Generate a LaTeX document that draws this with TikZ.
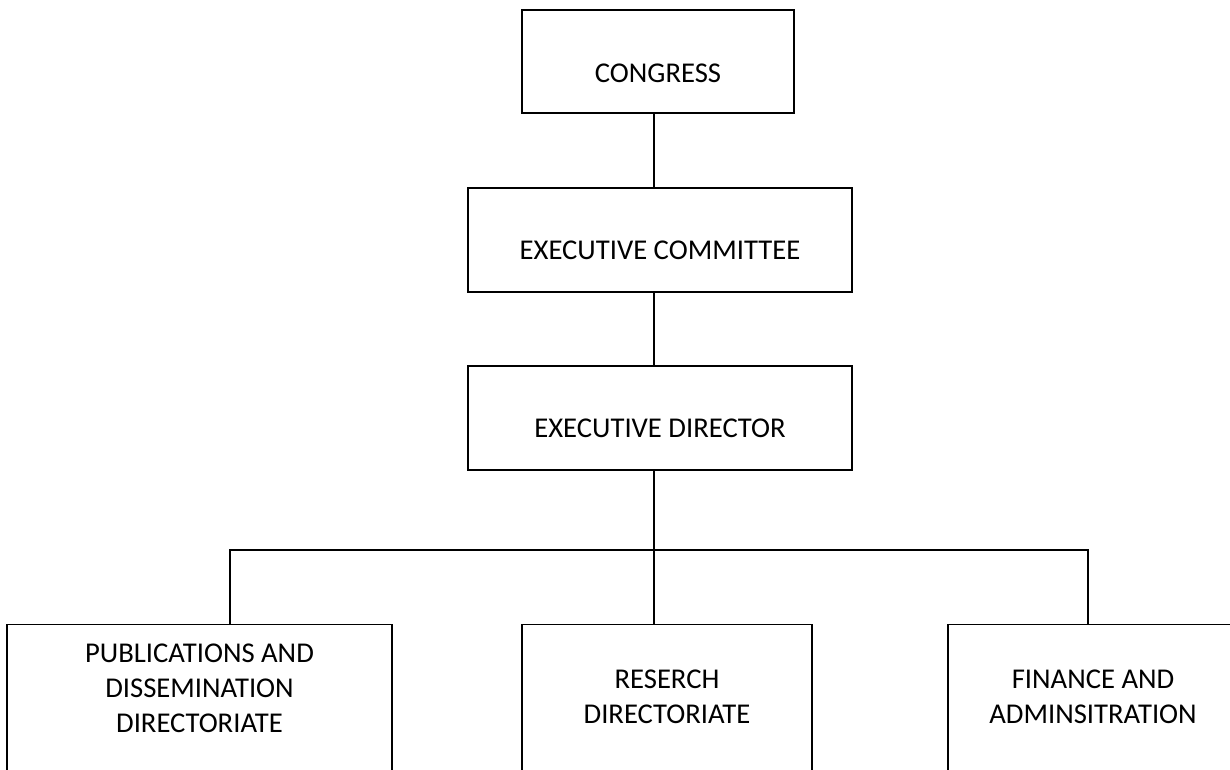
\documentclass[tikz,border=0pt]{standalone}
\usepackage{fontspec}
\setmainfont{Carlito}
\usepackage{tikz}
\usetikzlibrary{positioning,calc}
\tikzset{% 
  unit box/.style={%
    draw,
    line width=1pt,
    inner sep=0pt,
    align=flush center,
    font=\fontsize{21.5}{26.25}\selectfont
  }
}
\tikzset{% 
  top unit/.style={%
    unit box,
    text height=53.25pt,
    text depth=24.75pt
  }
}
\tikzset{% 
  bottom unit/.style={%
    unit box,
    anchor=north,
    text width=217.5pt,
    text height=48pt,
    text depth=150pt
  }
}
\tikzset{% 
  link/.style={%
    line width=0.8pt
  }
}

\begin{document}
\begin{tikzpicture}[x=0.75pt,y=-0.75pt]
  \useasboundingbox (0,0) rectangle (1230,769);
  \clip (0,0) rectangle (1230,769);
  \node [top unit, text width=204pt, text height=54pt, text depth=23.25pt] (congress) at (658, 61.5) {CONGRESS};
  \node [top unit, text width=288pt] (committee) at (660, 240) {EXECUTIVE COMMITTEE};
  \node [top unit, text width=288pt] (director) at (660, 418) {EXECUTIVE DIRECTOR};
  \node [bottom unit, text width=288.75pt, text height=28.5pt] (pub) at (199.5, 624) {PUBLICATIONS AND\\DISSEMINATION\\DIRECTORIATE};
  \node [bottom unit] (res) at (667, 624) {RESERCH\\DIRECTORIATE};
  \node [bottom unit] (fin) at (1093, 624) {FINANCE AND\\ADMINSITRATION};
  \coordinate (busL) at (230, 550);
  \coordinate (busR) at (1088, 550);
  \coordinate (stem) at (654, 0);
  \draw [link] (stem |- congress.south) -- (stem |- committee.north);
  \draw [link] (stem |- committee.south) -- (stem |- director.north);
  \draw [link] (stem |- director.south) -- (stem |- res.north);
  \draw [link] (busL |- pub.north) -- (busL) -- (busR) -- (busR |- fin.north);
\end{tikzpicture}
\end{document}
